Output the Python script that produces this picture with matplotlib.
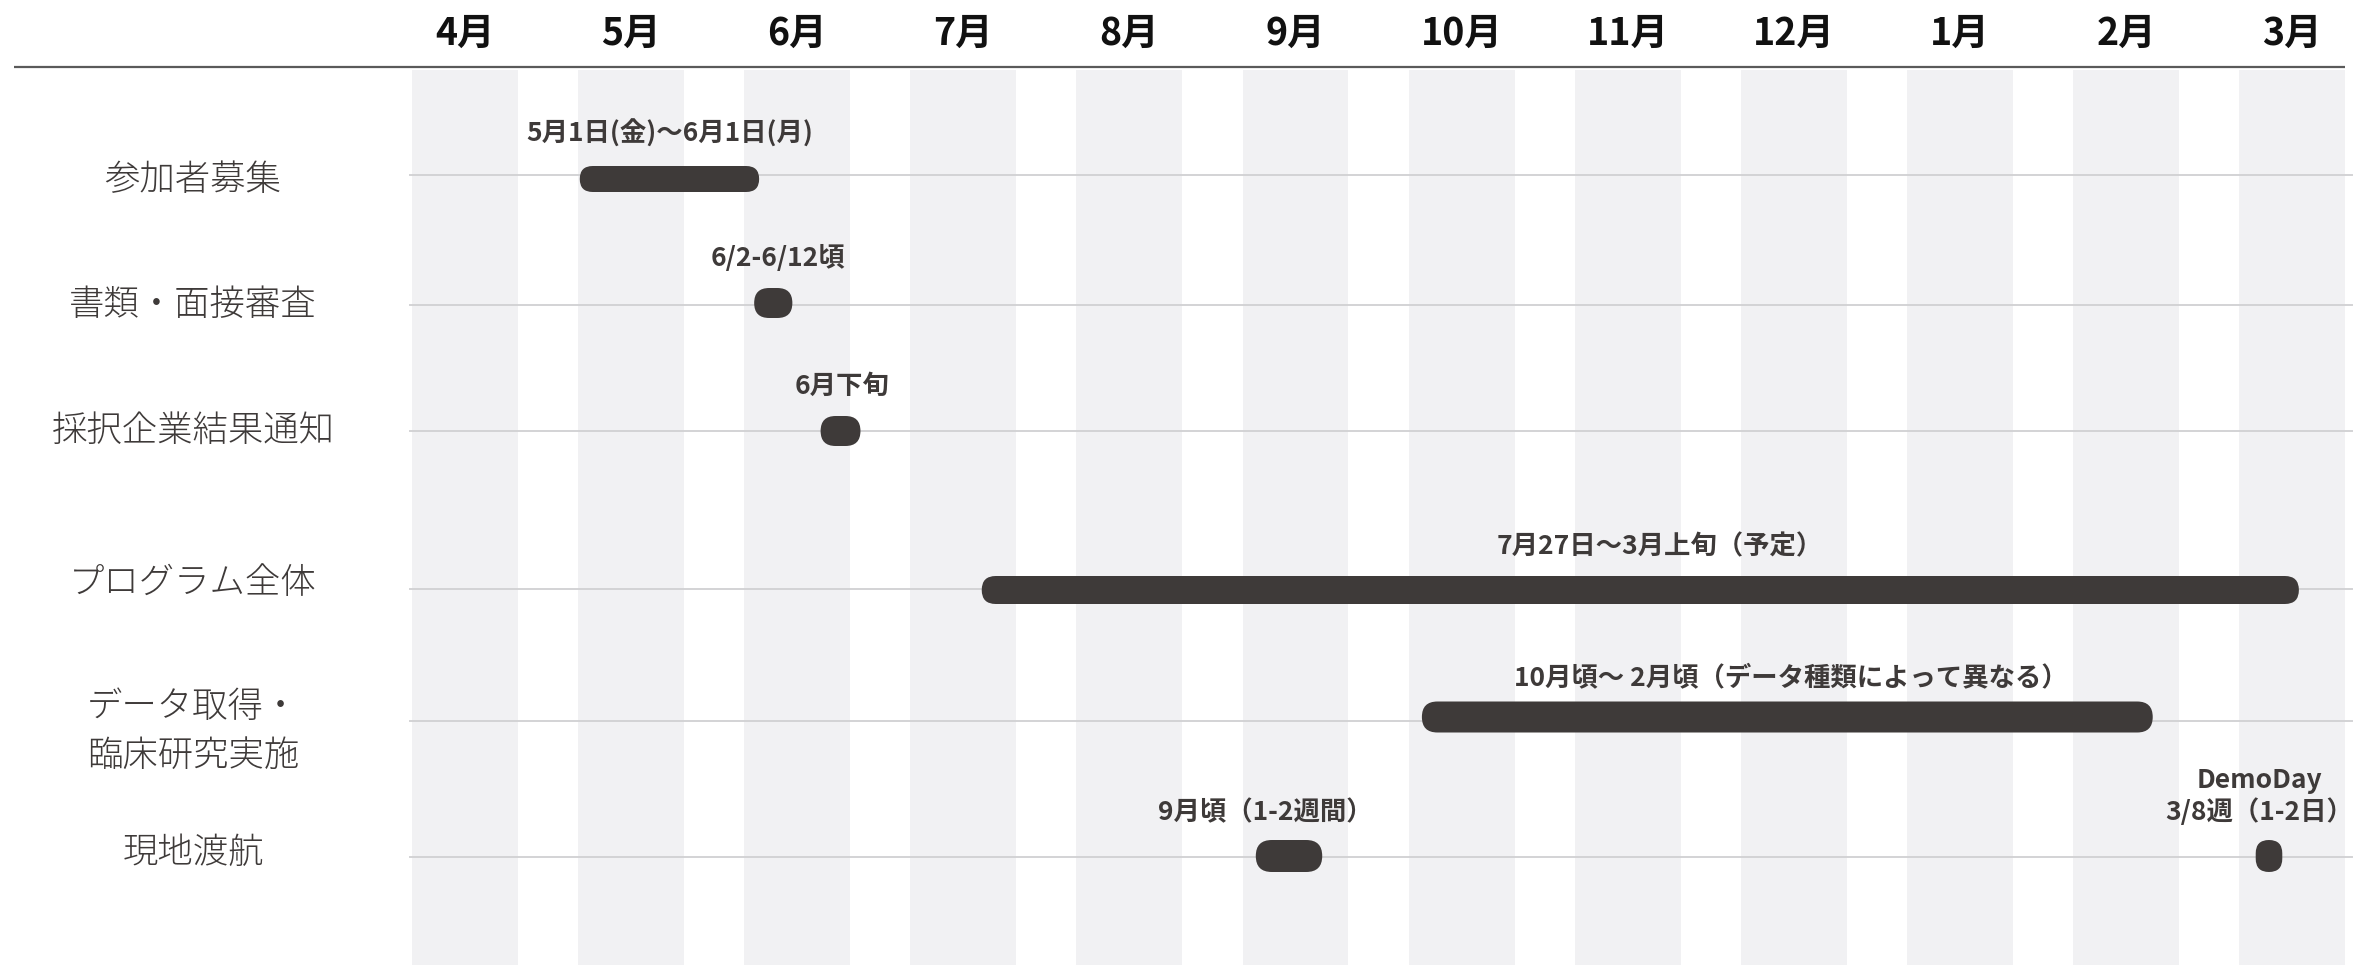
import matplotlib
matplotlib.use("Agg")
import matplotlib.pyplot as plt
from matplotlib.patches import FancyBboxPatch, Rectangle
from matplotlib.transforms import IdentityTransform

plt.rcParams['font.family'] = ['Noto Sans CJK JP', 'DejaVu Sans']

# ---------------- data ----------------
months = ['4月', '5月', '6月', '7月', '8月', '9月', '10月', '11月', '12月', '1月', '2月', '3月']
tasks = ['参加者募集', '書類・面接審査', '採択企業結果通知', 'プログラム全体',
         'データ取得・\n臨床研究実施', '現地渡航']
# bars: row index, start / end (in months from 1 April), annotation
bar_row = [0, 1, 2, 3, 4, 5, 5]
bar_start = [1.01, 2.06, 2.46, 3.43, 6.08, 5.08, 11.10]
bar_end = [2.09, 2.29, 2.70, 11.36, 10.48, 5.48, 11.26]
bar_text = ['5月1日(金)〜6月1日(月)', '6/2-6/12頃', '6月下旬', '7月27日〜3月上旬（予定）',
            '10月頃〜 2月頃（データ種類によって異なる）', '9月頃（1-2週間）',
            'DemoDay\n3/8週（1-2日）']

# ---------------- layout (pixels / styling) ----------------
W, H = 2361, 965
px_month0 = 412.0
px_per_month = 166.1
band_frac = 0.638
line_y = [175, 305, 431, 589, 721, 857]
bar_y = [179, 303, 431, 590, 717, 856]
label_y = [180, 305, 431, 583, 731, 853]
bar_h = [26, 30, 30, 28, 31, 32, 32]
text_dx = [0.0, 0.03, 0.01, 0.12, 0.02, -0.14, -0.06]
text_gap = [18, 16, 16, 16, 10, 14, 14]

BAND = '#f1f1f3'
BAR = '#3e3a39'
ROWLINE = '#d3d3d5'
TXT = '#3e3a39'

fig = plt.figure(figsize=(W / 100, H / 100), dpi=100)
ax = fig.add_axes([0, 0, 1, 1])
ax.set_xlim(-px_month0 / px_per_month, (W - px_month0) / px_per_month)
ax.set_ylim(H, 0)
ax.axis('off')

# month bands and labels
for i, m in enumerate(months):
    ax.add_patch(Rectangle((i, 70), band_frac, H - 70, facecolor=BAND, edgecolor='none', zorder=0))
    ax.text(i + band_frac / 2, 33, m, ha='center', va='center', fontsize=27,
            fontweight='bold', color='#111111')

# header line
ax.plot([(14 - px_month0) / px_per_month, len(months) - 1 + band_frac], [67, 67],
        color='#5a5a5a', lw=1.6, solid_capstyle='butt', zorder=2)

# row lines and labels
x_line_end = (2352 - px_month0) / px_per_month
for r, t in enumerate(tasks):
    ax.plot([-0.01, x_line_end], [line_y[r], line_y[r]], color=ROWLINE, lw=1.4, zorder=1)
    ax.text(193 / W, 1 - label_y[r] / H, t, transform=ax.transAxes, ha='center', va='center',
            fontsize=25.5, fontweight='light', color=TXT, linespacing=1.36)

fig.canvas.draw()

# bars (rounded) drawn in display coordinates derived from data coordinates
for k in range(len(bar_row)):
    r = bar_row[k]
    h = bar_h[k]
    (x0, y0) = ax.transData.transform((bar_start[k], bar_y[r] + h / 2))
    (x1, y1) = ax.transData.transform((bar_end[k], bar_y[r] - h / 2))
    xa, xb = min(x0, x1), max(x0, x1)
    ya, yb = min(y0, y1), max(y0, y1)
    w, hh = xb - xa, yb - ya
    rad = min(w, hh) / 2
    p = FancyBboxPatch((xa, ya), w, hh, boxstyle=f"round,pad=0,rounding_size={rad}",
                       transform=IdentityTransform(), facecolor=BAR, edgecolor='none', zorder=3)
    ax.add_patch(p)
    xc = (bar_start[k] + bar_end[k]) / 2 + text_dx[k]
    ax.text(xc, bar_y[r] - h / 2 - text_gap[k], bar_text[k], ha='center', va='bottom',
            fontsize=19, fontweight='bold', color=TXT, linespacing=1.2, zorder=4)

fig.savefig('out.png', dpi=100)
